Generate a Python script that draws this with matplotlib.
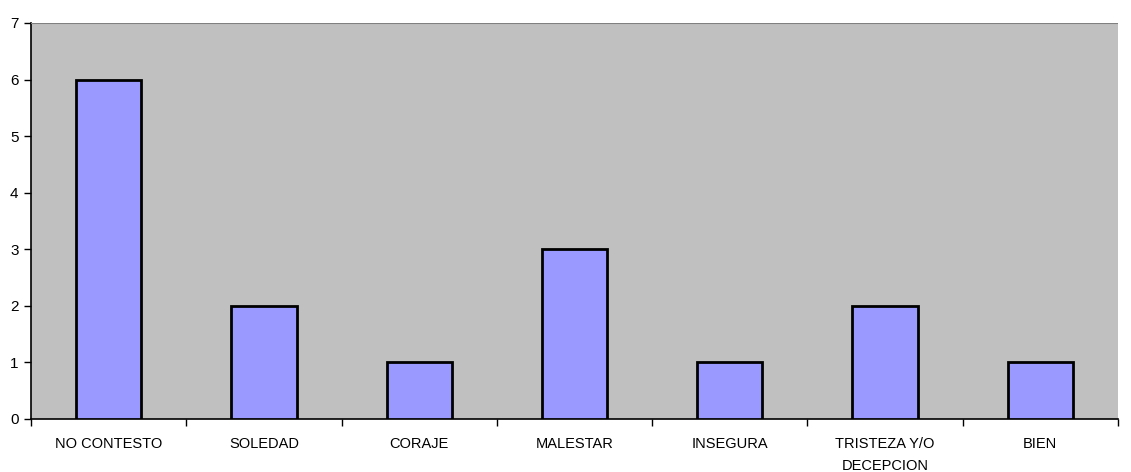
import matplotlib
matplotlib.use("Agg")
import matplotlib.pyplot as plt
import numpy as np

# Data
categories = ["NO CONTESTO", "SOLEDAD", "CORAJE", "MALESTAR", "INSEGURA",
              "TRISTEZA Y/O\nDECEPCION", "BIEN"]
values = [6, 2, 1, 3, 1, 2, 1]

plt.rcParams['font.family'] = ['Liberation Sans', 'DejaVu Sans']

fig = plt.figure(figsize=(11.31, 4.72), dpi=100)
ax = fig.add_axes([0.0274, 0.1123, 0.9611, 0.839])
ax.set_facecolor('#C0C0C0')

x = np.arange(len(categories))
ax.bar(x, values, width=0.42, color='#9999FF', edgecolor='black', linewidth=2, zorder=3)

ax.set_xlim(-0.5, len(categories) - 0.5)
ax.set_ylim(0, 7)
ax.set_yticks(range(0, 8))

# category labels centered, tick marks between categories
ax.set_xticks(x)
ax.set_xticklabels(categories, fontsize=10.5, linespacing=1.7)
ax.tick_params(axis='x', length=0, pad=13)
ax.set_xticks(np.arange(-0.5, len(categories) + 0.5, 1), minor=True)
ax.tick_params(axis='x', which='minor', length=5, width=1, direction='out')
ax.tick_params(axis='y', length=5, width=1, labelsize=11, pad=4)

for s in ['top', 'right']:
    ax.spines[s].set_visible(False)
ax.spines['left'].set_linewidth(1.2)
ax.spines['bottom'].set_linewidth(1.2)
ax.axhline(7, color='#808080', linewidth=1.5, zorder=4)

fig.savefig("out.png", dpi=100)
